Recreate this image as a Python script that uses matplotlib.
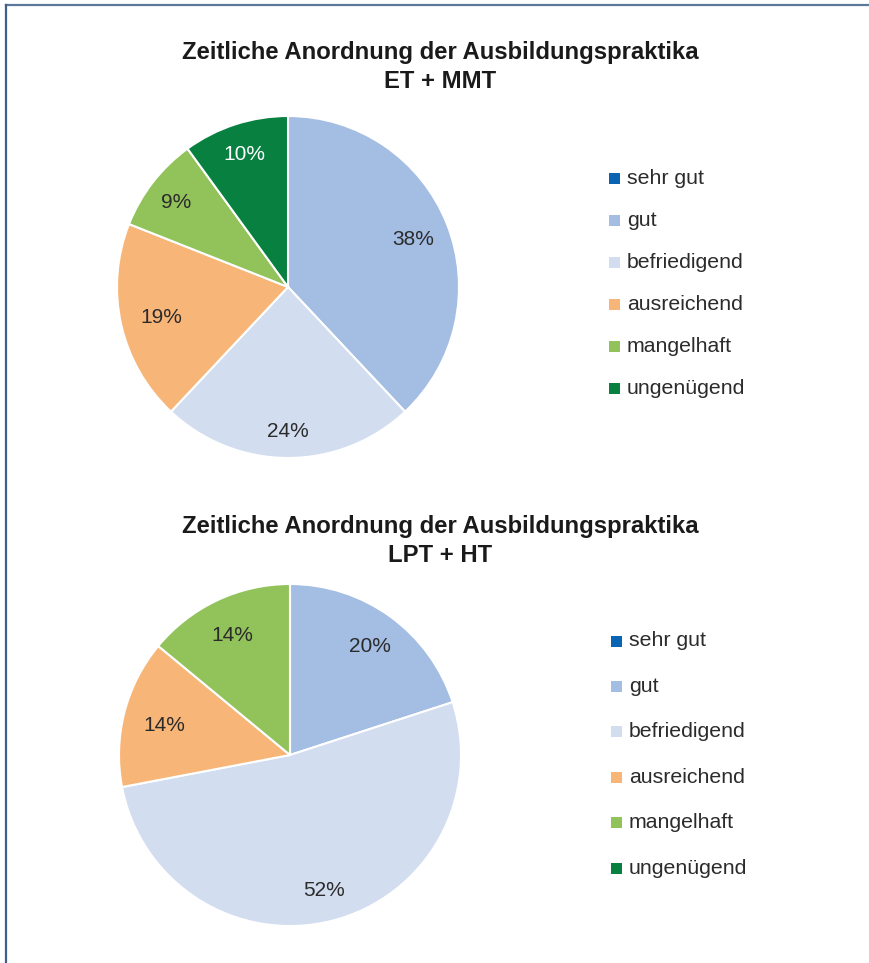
import matplotlib
matplotlib.use("Agg")
import numpy as np
import matplotlib.pyplot as plt
from matplotlib.patches import Rectangle
from matplotlib.lines import Line2D

plt.rcParams['font.family'] = ['Liberation Sans', 'DejaVu Sans']

categories = ["sehr gut", "gut", "befriedigend", "ausreichend", "mangelhaft", "ungenügend"]
colors = ["#0A64B4", "#A3BDE3", "#D2DDF0", "#F8B578", "#92C25A", "#078040"]
label_colors = ["#2B2B2B", "#2B2B2B", "#2B2B2B", "#2B2B2B", "#2B2B2B", "#FFFFFF"]

values_et_mmt = [0, 38, 24, 19, 9, 10]
values_lpt_ht = [0, 20, 52, 14, 14, 0]

title_1 = "Zeitliche Anordnung der Ausbildungspraktika\nET + MMT"
title_2 = "Zeitliche Anordnung der Ausbildungspraktika\nLPT + HT"

# label distances from centre (fraction of radius), per wedge
label_dist_1 = [0.8, 0.79, 0.83, 0.76, 0.83, 0.83]
label_dist_2 = [0.8, 0.80, 0.80, 0.76, 0.79, 0.8]

W, H = 869, 963
fig = plt.figure(figsize=(W / 100, H / 100), dpi=100)


def px_axes(cx, cy, r):
    return fig.add_axes([(cx - r) / W, (H - cy - r) / H, 2 * r / W, 2 * r / H])


def draw_pie(ax, values, dists):
    wedges, texts, autotexts = ax.pie(
        values, colors=colors, startangle=90, counterclock=False,
        autopct=lambda p: f"{p:.0f}%" if p > 0.5 else "",
        pctdistance=0.78, radius=1.0,
        wedgeprops=dict(edgecolor="white", linewidth=1.5),
        textprops=dict(fontsize=15, color="#2B2B2B"))
    for w, t, c, d in zip(wedges, autotexts, label_colors, dists):
        t.set_color(c)
        ang = np.deg2rad((w.theta1 + w.theta2) / 2)
        t.set_position((d * np.cos(ang), d * np.sin(ang) - 0.015))
    ax.set_xlim(-1.0, 1.0)
    ax.set_ylim(-1.0, 1.0)
    ax.set_aspect("equal")
    ax.axis("off")


def draw_legend(x_box, y_first, spacing):
    for i, (cat, col) in enumerate(zip(categories, colors)):
        y = y_first + i * spacing
        fig.patches.append(Rectangle(((x_box) / W, (H - y - 5.5) / H), 11 / W, 11 / H,
                                     transform=fig.transFigure, facecolor=col,
                                     edgecolor="none"))
        fig.text((x_box + 18) / W, (H - y) / H, cat, fontsize=15.3, color="#2B2B2B",
                 ha="left", va="center")


ax1 = px_axes(288, 287, 171)
draw_pie(ax1, values_et_mmt, label_dist_1)
ax2 = px_axes(290, 755, 171)
draw_pie(ax2, values_lpt_ht, label_dist_2)

fig.text(440 / W, (H - 67) / H, title_1, fontsize=17.2, fontweight="bold",
         ha="center", va="center", color="#1A1A1A", linespacing=1.3)
fig.text(440 / W, (H - 541) / H, title_2, fontsize=17.2, fontweight="bold",
         ha="center", va="center", color="#1A1A1A", linespacing=1.3)

draw_legend(609, 179, 42)
draw_legend(611, 641, 45.4)

# frame lines
fig.lines.append(Line2D([6 / W, 1.0], [(H - 5.5) / H, (H - 5.5) / H],
                        transform=fig.transFigure, color="#5B7A99", linewidth=1.6))
fig.lines.append(Line2D([6 / W, 6 / W], [0, (H - 5.5) / H],
                        transform=fig.transFigure, color="#3D5F8A", linewidth=1.6))

fig.savefig("out.png", dpi=100, facecolor="white")
